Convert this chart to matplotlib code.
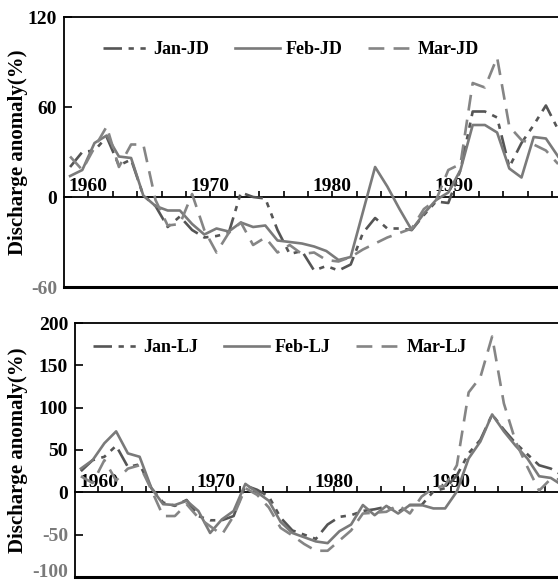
import matplotlib
matplotlib.use('Agg')
import matplotlib.pyplot as plt
import numpy as np

plt.rcParams['font.family'] = ['Liberation Serif', 'DejaVu Serif']
plt.rcParams['font.weight'] = 'bold'

# ---------------- data ----------------
years_jd = np.arange(1958, 1999)
jan_jd = [20, 30, 31, 40, 21, 25, 1, -6, -20, -13, -22, -27, -26, -24, 3, 0, -1, -22, -38, -36,
          -49, -46, -49, -45, -24, -14, -21, -21, -22, -12, -3, -4, 18, 57, 57, 53, 20, 36, 48, 61, 45]
feb_jd = [14, 18, 36, 41, 27, 26, 1, -6, -9, -9, -18, -25, -21, -23, -17, -20, -19, -29, -30, -31,
          -33, -36, -42, -40, -10, 20, 7, -8, -22, -11, -2, 3, 18, 48, 48, 43, 19, 13, 40, 39, 27]
mar_jd = [27, 18, 33, 47, 20, 35, 35, -2, -19, -18, 2, -22, -37, -24, -17, -32, -27, -37, -32, -38,
          -37, -42, -43, -40, -35, -31, -27, -24, -21, -8, -2, 18, 22, 76, 73, 93, 47, 38, 35, 31, 22]

years_lj = np.arange(1958, 2000)
jan_lj = [25, 38, 42, 55, 30, 33, 5, -12, -16, -9, -28, -33, -33, -28, 8, 3, -5, -30, -45, -50,
          -55, -38, -29, -27, -22, -20, -17, -23, -15, -15, 1, 5, 20, 46, 62, 92, 74, 58, 45, 32, 28, 20]
feb_lj = [28, 38, 58, 72, 46, 42, 5, -14, -15, -10, -22, -48, -32, -22, 10, 0, -10, -35, -48, -53,
          -58, -60, -46, -38, -15, -27, -16, -25, -15, -15, -19, -19, 1, 40, 60, 92, 72, 55, 40, 19, 17, 8]
mar_lj = [19, 11, 38, 14, 28, 32, 3, -28, -28, -14, -30, -40, -50, -28, 5, -3, -18, -42, -51, -61,
          -69, -69, -57, -45, -25, -24, -23, -15, -25, -5, 5, 8, 32, 118, 136, 184, 105, 60, 30, 2, 16, 15]

labels_jd = ['Jan-JD', 'Feb-JD', 'Mar-JD']
labels_lj = ['Jan-LJ', 'Feb-LJ', 'Mar-LJ']
year_labels = [1960, 1970, 1980, 1990]

# ---------------- styles ----------------
colors = ['#555555', '#7a7a7a', '#858585']
styles = [(0, (7, 2.5, 2, 2.5, 2, 2.5)), '-', (0, (6, 3.5))]
FS_TICK = 14
FS_LEG = 13

fig = plt.figure(figsize=(5.58, 5.85), dpi=100)
ax1 = fig.add_axes([64 / 558, 1 - 287 / 585, 494 / 558, 270 / 585])
ax2 = fig.add_axes([75 / 558, 1 - 577 / 585, 483 / 558, 254 / 585])


def draw(ax, years, series, labels, ylim, yticks, xmax, leg_anchor, ylab_x, lift_bottom):
    xs = years + 0.5
    for vals, lab, c, ls in zip(series, labels, colors, styles):
        ax.plot(xs, vals, color=c, lw=1.9, ls=ls, label=lab, zorder=3)
    ax.set_xlim(1958, xmax)
    ax.set_ylim(*ylim)
    for s in ax.spines.values():
        s.set_linewidth(1.3)
    ax.spines['right'].set_visible(False)
    ax.spines['bottom'].set_position(('data', 0))
    ax.axhline(ylim[0], color='black', lw=2.2, clip_on=False, zorder=4)
    ticks = np.arange(1960, int(xmax) + 1, 2)
    ax.set_xticks(ticks)
    ax.set_xticklabels([str(t) if t in year_labels else '' for t in ticks])
    ax.tick_params(axis='x', direction='in', length=4.5, width=1.2, pad=-13.5,
                   labelsize=FS_TICK)
    ax.set_yticks(yticks)
    ax.set_yticklabels([str(t) for t in yticks])
    ax.tick_params(axis='y', direction='in', length=5.5, width=1.2, pad=5, labelsize=FS_TICK)
    for lbl, t in zip(ax.get_yticklabels(), yticks):
        if t < 0:
            lbl.set_color('#7a7a7a')
    if lift_bottom:
        ax.get_yticklabels()[0].set_verticalalignment('baseline')
    ax.set_ylabel('Discharge anomaly(%)', fontsize=15, fontweight='bold')
    ax.yaxis.set_label_coords(ylab_x, 0.5)
    ax.legend(loc='center', bbox_to_anchor=leg_anchor, ncol=3, frameon=False,
              prop={'size': FS_LEG, 'weight': 'bold'}, handlelength=2.5,
              columnspacing=1.4, handletextpad=0.3)


draw(ax1, years_jd, [jan_jd, feb_jd, mar_jd], labels_jd, (-60, 120), [-60, 0, 60, 120],
     1958 + 494 / 12.2, (0.46, 0.878), -0.073, False)
draw(ax2, years_lj, [jan_lj, feb_lj, mar_lj], labels_lj, (-100, 200),
     [-100, -50, 0, 50, 100, 150, 200], 1958 + 483 / 11.75, (0.424, 0.902), -0.097, True)

fig.savefig('out.png', dpi=100)
